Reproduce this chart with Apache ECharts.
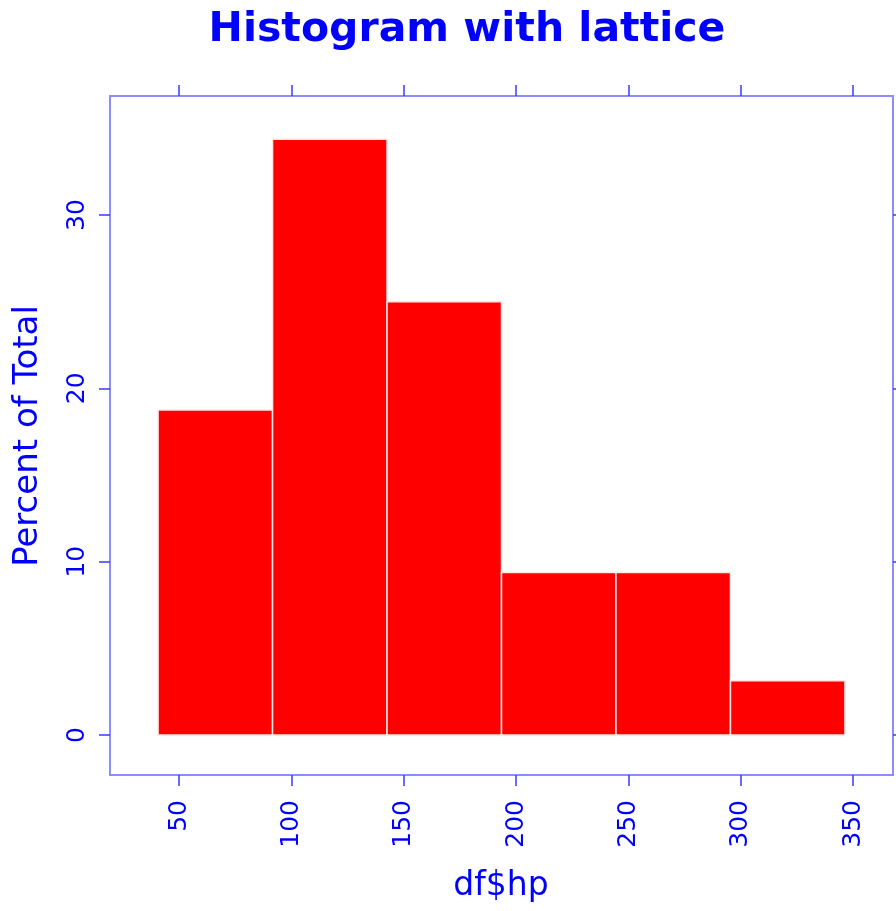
<!DOCTYPE html>
<html><head><meta charset="utf-8">
<script src="https://cdn.jsdelivr.net/npm/echarts@6/dist/echarts.min.js"></script>
<style>html,body{margin:0;padding:0;background:#fff}#c{width:896px;height:911px}</style>
</head><body><div id="c"></div>
<script>
const binEdges = [40.68, 91.62, 142.56, 193.5, 244.44, 295.38, 346.32];
const percents = [18.75, 34.375, 25, 9.375, 9.375, 3.125];
const xTicks = [50, 100, 150, 200, 250, 300, 350];
const yTicks = [0, 10, 20, 30];
const xRange = [19.29, 367.7];
const yRange = [-2.31, 36.87];

const blue = '#0000ff';
const tickColor = '#3a3aff';
const frame = '#8c8cff';
const bins = percents.map((p, i) => [binEdges[i], binEdges[i + 1], p]);

const chart = echarts.init(document.getElementById('c'));
const labelFont = {fontFamily: 'DejaVu Sans', fontSize: 25, color: blue};
const tick = {show: true, inside: false, length: 11, lineStyle: {color: tickColor, width: 1.5}};
chart.setOption({
  animation: false,
  title: {
    text: 'Histogram with lattice', left: 462, top: 5, textAlign: 'center',
    textStyle: {fontFamily: 'DejaVu Sans', fontWeight: 'bold', fontSize: 41, color: blue}
  },
  graphic: [
    {type: 'text', x: 28, y: 436, rotation: Math.PI / 2,
     style: {text: 'Percent of Total', fontFamily: 'DejaVu Sans', fontSize: 34, fill: blue, align: 'center', verticalAlign: 'middle'}},
    {type: 'text', x: 501, y: 886,
     style: {text: 'df$hp', fontFamily: 'DejaVu Sans', fontSize: 33, fill: blue, align: 'center', verticalAlign: 'middle'}}
  ],
  grid: {left: 110, top: 96, right: 3, bottom: 136, show: true, borderColor: frame, borderWidth: 2, backgroundColor: '#fff'},
  xAxis: [
    {type: 'value', min: xRange[0], max: xRange[1], position: 'bottom',
     splitLine: {show: false},
     axisLine: {show: false, onZero: false},
     axisTick: Object.assign({customValues: xTicks}, tick),
     axisLabel: Object.assign({rotate: 90, margin: 25, customValues: xTicks}, labelFont)},
    {type: 'value', min: xRange[0], max: xRange[1], position: 'top',
     splitLine: {show: false}, axisLine: {show: false, onZero: false},
     axisTick: Object.assign({customValues: xTicks}, tick),
     axisLabel: {show: false}}
  ],
  yAxis: [
    {type: 'value', min: yRange[0], max: yRange[1], position: 'left',
     splitLine: {show: false}, axisLine: {show: false, onZero: false},
     axisTick: Object.assign({customValues: yTicks}, tick),
     axisLabel: Object.assign({rotate: 90, margin: 20, customValues: yTicks}, labelFont)},
    {type: 'value', min: yRange[0], max: yRange[1], position: 'right',
     splitLine: {show: false}, axisLine: {show: false, onZero: false},
     axisTick: Object.assign({customValues: yTicks}, tick),
     axisLabel: {show: false}}
  ],
  series: [{
    type: 'custom',
    xAxisIndex: 0, yAxisIndex: 0,
    data: bins,
    renderItem: function (params, api) {
      const p0 = api.coord([api.value(0), api.value(2)]);
      const p1 = api.coord([api.value(1), 0]);
      return {
        type: 'rect',
        shape: {x: p0[0], y: p0[1], width: p1[0] - p0[0], height: p1[1] - p0[1]},
        style: {fill: '#ff0000', stroke: '#ffe4e4', lineWidth: 1.5}
      };
    }
  }]
});
</script></body></html>
